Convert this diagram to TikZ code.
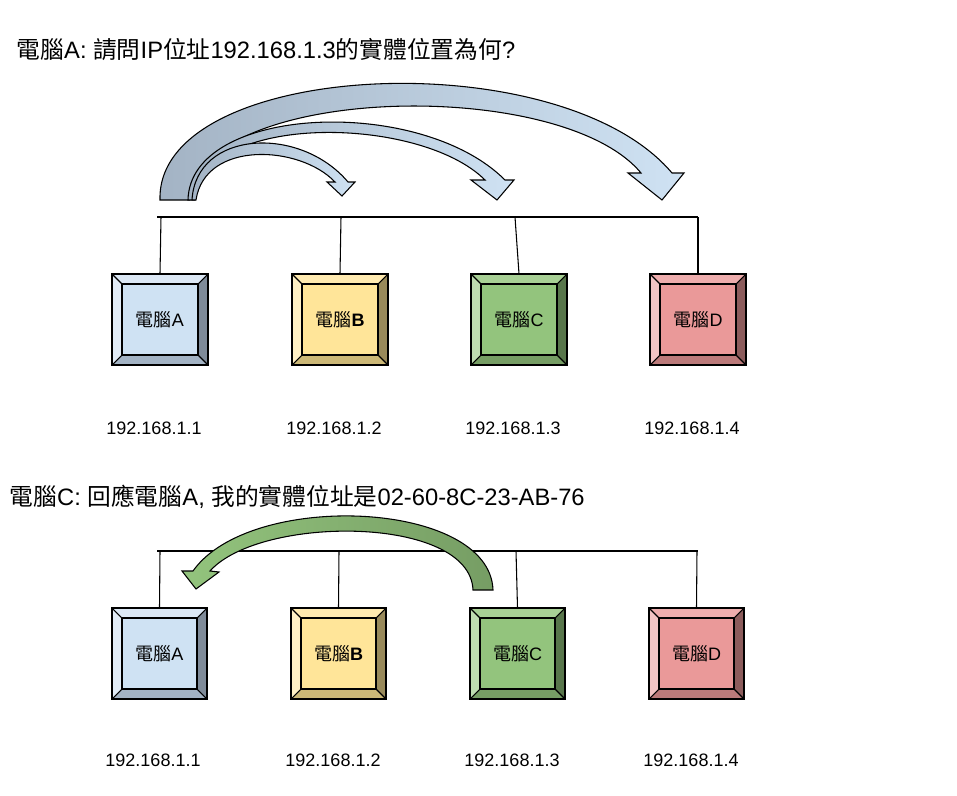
\documentclass[tikz,border=0pt]{standalone}
\usepackage{fontspec}
\setmainfont{Liberation Sans}
\newfontfamily\cjk{Noto Sans CJK TC}
\definecolor{AF}{HTML}{CFE2F3}\definecolor{AT}{HTML}{DCE8F5}\definecolor{AL}{HTML}{E2ECF7}\definecolor{AR}{HTML}{7F8B99}\definecolor{AB}{HTML}{A3B3C4}
\definecolor{BF}{HTML}{FFE599}\definecolor{BT}{HTML}{FFEAB0}\definecolor{BL}{HTML}{FFF0C4}\definecolor{BR}{HTML}{998A5B}\definecolor{BB}{HTML}{CCB877}
\definecolor{CF}{HTML}{93C47D}\definecolor{CT}{HTML}{A8D095}\definecolor{CL}{HTML}{BEDCB0}\definecolor{CR}{HTML}{58764B}\definecolor{CB}{HTML}{769D64}
\definecolor{DF}{HTML}{EA9999}\definecolor{DT}{HTML}{EEADAD}\definecolor{DL}{HTML}{F2C4C4}\definecolor{DR}{HTML}{8C5C5C}\definecolor{DB}{HTML}{BB7A7A}
\tikzset{edge/.style={line width=0.8pt},
 lbl/.style={font=\fontsize{13.5}{15}\selectfont},
 iplbl/.style={font=\fontsize{13.5}{15}\selectfont},
 ttl/.style={font=\fontsize{17.8}{20}\selectfont, anchor=west}}
\newcommand\bevelbox[7]{%
 \fill[#6T] (#2,#3)--(#4,#3)--(#4-10,#3+10)--(#2+10,#3+10)--cycle;
 \fill[#6L] (#2,#3)--(#2+10,#3+10)--(#2+10,#5-10)--(#2,#5)--cycle;
 \fill[#6R] (#4,#3)--(#4-10,#3+10)--(#4-10,#5-10)--(#4,#5)--cycle;
 \fill[#6B] (#2,#5)--(#2+10,#5-10)--(#4-10,#5-10)--(#4,#5)--cycle;
 \draw[edge,fill=#6F] (#2+10,#3+10) rectangle (#4-10,#5-10);
 \draw[edge] (#2,#3) rectangle (#4,#5);
 \draw[edge] (#2,#3)--(#2+10,#3+10) (#4,#3)--(#4-10,#3+10) (#2,#5)--(#2+10,#5-10) (#4,#5)--(#4-10,#5-10);
 \node[lbl, inner sep=0, minimum width={(#4-#2)*0.75pt}, minimum height={(#5-#3)*0.75pt}] (#1) at ({(#2+#4)/2},{(#3+#5)/2}) {#7};
}
\begin{document}
\begin{tikzpicture}[x=0.75pt,y=-0.75pt]
\useasboundingbox (0,0) rectangle (957,796);
% titles
\node[ttl] (t1) at (12,50) {{\cjk 電腦}A: {\cjk 請問}IP{\cjk 位址}192.168.1.3{\cjk 的實體位置為何}?};
\node[ttl] (t2) at (5,497) {{\cjk 電腦}C: {\cjk 回應電腦}A, {\cjk 我的實體位址是}02-60-8C-23-AB-76};
% top arrows
\draw[edge, left color=AB, right color=AF] (160,200) .. controls (156,60) and (560,40) .. (672,173) -- (684,173) -- (662,200) -- (628,173) -- (641,173) .. controls (560,75) and (196,85) .. (190,200) -- cycle;
\draw[edge, left color=AB, right color=AF] (188,200) .. controls (190,105) and (420,95) .. (505,180) -- (514,180) -- (497,200) -- (471,180) -- (485,180) .. controls (420,115) and (202,112) .. (195,200) -- cycle;
\draw[edge, left color=AB, right color=AF] (192,200) .. controls (196,130) and (300,125) .. (348,182) -- (355,182) -- (342,196) -- (327,182) -- (335,182) .. controls (300,145) and (205,140) .. (196,200) -- cycle;
% top row
\coordinate (bl1) at (157,217); \coordinate (br1) at (698,217);
\draw[edge] (bl1) -- (br1);
\bevelbox{A1}{112}{274}{208}{365}{A}{{\cjk 電腦}A}
\bevelbox{B1}{292}{274}{388}{365}{B}{{\cjk 電腦}\textbf{B}}
\bevelbox{C1}{471}{274}{567}{365}{C}{{\cjk 電腦}C}
\bevelbox{D1}{650}{274}{746}{365}{D}{{\cjk 電腦}D}
\draw[edge] (161,217) -- (A1.north);
\draw[edge] (341,217) -- (B1.north);
\draw[edge] (515,217) -- (C1.north);
\draw[edge] (698,217) -- (D1.north);
\node[iplbl] (ipA1) at (154,428) {192.168.1.1};
\node[iplbl] (ipB1) at (334,428) {192.168.1.2};
\node[iplbl] (ipC1) at (513,428) {192.168.1.3};
\node[iplbl] (ipD1) at (692,428) {192.168.1.4};
% bottom row
\coordinate (bl2) at (157,551); \coordinate (br2) at (698,551);
\draw[edge] (bl2) -- (br2);
\bevelbox{A2}{112}{608}{207}{699}{A}{{\cjk 電腦}A}
\bevelbox{B2}{291}{608}{386}{699}{B}{{\cjk 電腦}\textbf{B}}
\bevelbox{C2}{470}{608}{565}{699}{C}{{\cjk 電腦}C}
\bevelbox{D2}{649}{608}{744}{699}{D}{{\cjk 電腦}D}
\draw[edge] (160,551) -- (A2.north);
\draw[edge] (339,551) -- (B2.north);
\draw[edge] (516,551) -- (C2.north);
\draw[edge] (697,551) -- (D2.north);
\node[iplbl] (ipA2) at (153,760) {192.168.1.1};
\node[iplbl] (ipB2) at (333,760) {192.168.1.2};
\node[iplbl] (ipC2) at (512,760) {192.168.1.3};
\node[iplbl] (ipD2) at (691,760) {192.168.1.4};
% bottom arrow
\draw[edge, left color=CF, right color=CB] (493,590) .. controls (490,500) and (250,490) .. (193,571) -- (182,571) -- (196,589) -- (219,572) -- (210,571) .. controls (260,515) and (470,515) .. (473,590) -- cycle;
\end{tikzpicture}
\end{document}
